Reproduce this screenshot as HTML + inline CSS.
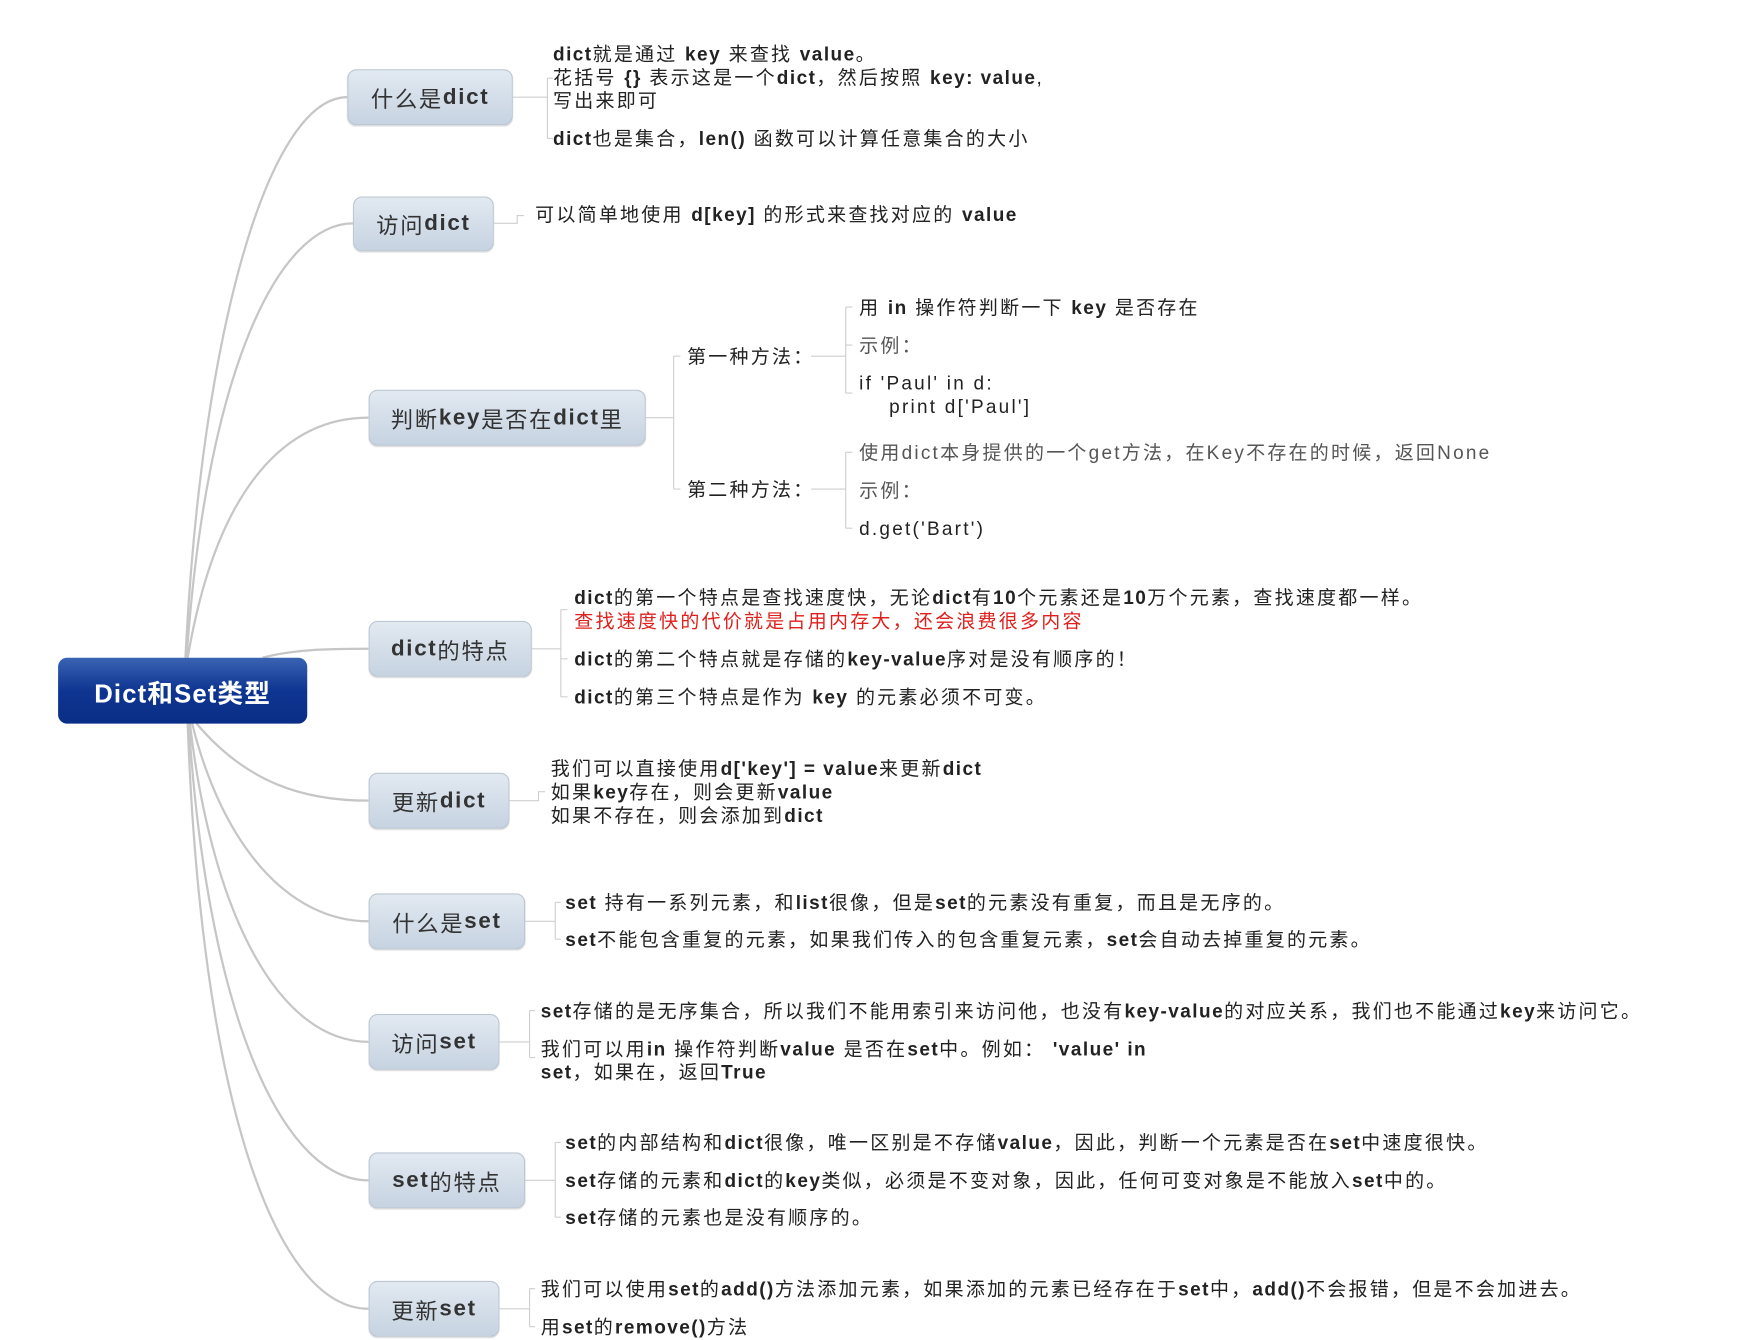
<!DOCTYPE html>
<html><head><meta charset="utf-8"><style>
html,body{margin:0;padding:0;background:#fff;overflow:hidden;width:1754px;height:1340px}
#w{position:absolute;left:0;top:0;width:1570px;height:1200px;transform:scale(1.1172,1.1167);transform-origin:0 0}
.t{position:absolute;font-family:"Liberation Sans","Noto Sans CJK SC",sans-serif;font-size:17px;line-height:21px;color:#222;white-space:nowrap;letter-spacing:2px}
.t b{font-weight:bold;letter-spacing:1.3px}
.g{color:#555}
.r{color:#e0201c}
.n{position:absolute;box-sizing:border-box;border:1px solid #bcc7d3;border-radius:8px;background:linear-gradient(#e2e9f1,#c6d3e1);font-family:"Liberation Sans","Noto Sans CJK SC",sans-serif;font-size:20px;letter-spacing:1.5px;color:#333;display:flex;align-items:center;justify-content:center;box-shadow:0 1px 1px #d8d8d8}
.root{position:absolute;left:52px;top:589px;width:223px;height:59px;border-radius:8px;background:linear-gradient(#3a63b3,#0e3591 50%,#0a2e86);color:#fff;font-family:"Liberation Sans","Noto Sans CJK SC",sans-serif;font-size:23px;letter-spacing:1px;font-weight:bold;display:flex;align-items:center;justify-content:center}
</style></head><body><div id="w">
<svg width="1570" height="1200" style="position:absolute;left:0;top:0" fill="none">
<g stroke="#c6c6c6" stroke-width="2">
<path d="M166,589 C180,300 240,87 311,87"/>
<path d="M167,589 C185,330 250,200 316,200"/>
<path d="M168,589 C195,430 260,374 330,374"/>
<path d="M235,589 C260,582 290,581 330,581"/>
<path d="M176,648 C220,700 270,717 330,717"/>
<path d="M172,648 C200,760 260,825 330,825"/>
<path d="M170,648 C190,820 250,933 330,933"/>
<path d="M169,648 C185,900 250,1057 330,1057"/>
<path d="M168,648 C180,980 245,1172 330,1172"/>
</g>
<g stroke="#cfcfcf" stroke-width="1">
<path d="M459,87H490M490,70V124M490,70h5M490,124h5"/>
<path d="M442,200H463V193h6"/>
<path d="M578,374H603M603,319V438M603,319h6M603,438h6"/>
<path d="M726,319H757M757,275V352M757,275h6M757,309h6M757,352h6"/>
<path d="M726,438H757M757,405V473M757,405h6M757,473h6"/>
<path d="M476,581H502M502,546V624M502,546h6M502,590h6M502,624h6"/>
<path d="M456,717H482V709h6"/>
<path d="M470,825H497M497,808V841M497,808h5M497,841h5"/>
<path d="M447,933H474M474,905V947M474,905h5M474,947h5"/>
<path d="M470,1057H497M497,1023V1090M497,1023h5M497,1090h5"/>
<path d="M447,1172H474M474,1154V1188M474,1154h5M474,1188h5"/>
</g></svg>
<div class="root">Dict和Set类型</div>
<div class="n" style="left:311px;top:62px;width:148px;height:50px">什么是<b>dict</b></div>
<div class="n" style="left:316px;top:176px;width:126px;height:49px">访问<b>dict</b></div>
<div class="n" style="left:330px;top:349px;width:248px;height:50px">判断<b>key</b>是否在<b>dict</b>里</div>
<div class="n" style="left:330px;top:556px;width:146px;height:50px"><b>dict</b>的特点</div>
<div class="n" style="left:330px;top:692px;width:126px;height:50px">更新<b>dict</b></div>
<div class="n" style="left:330px;top:800px;width:140px;height:50px">什么是<b>set</b></div>
<div class="n" style="left:330px;top:908px;width:117px;height:50px">访问<b>set</b></div>
<div class="n" style="left:330px;top:1032px;width:140px;height:50px"><b>set</b>的特点</div>
<div class="n" style="left:330px;top:1147px;width:117px;height:50px">更新<b>set</b></div>

<div class="t" style="left:495px;top:38px"><b>dict</b>就是通过 <b>key</b> 来查找 <b>value</b>。<br>花括号 <b>{}</b> 表示这是一个<b>dict</b>，然后按照 <b>key: value</b>,<br>写出来即可</div>
<div class="t" style="left:495px;top:114px"><b>dict</b>也是集合，<b>len()</b> 函数可以计算任意集合的大小</div>
<div class="t" style="left:479px;top:182px">可以简单地使用 <b>d[key]</b> 的形式来查找对应的 <b>value</b></div>
<div class="t" style="left:615px;top:309px">第一种方法：</div>
<div class="t" style="left:615px;top:428px">第二种方法：</div>
<div class="t" style="left:769px;top:265px">用 <b>in</b> 操作符判断一下 <b>key</b> 是否存在</div>
<div class="t g" style="left:769px;top:299px">示例：</div>
<div class="t" style="left:769px;top:333px">if 'Paul' in d:<br>&nbsp;&nbsp;&nbsp;&nbsp;print d['Paul']</div>
<div class="t g" style="left:769px;top:395px">使用dict本身提供的一个get方法，在Key不存在的时候，返回None</div>
<div class="t g" style="left:769px;top:429px">示例：</div>
<div class="t" style="left:769px;top:463px">d.get('Bart')</div>
<div class="t" style="left:514px;top:525px"><b>dict</b>的第一个特点是查找速度快，无论<b>dict</b>有<b>10</b>个元素还是<b>10</b>万个元素，查找速度都一样。<br><span class="r">查找速度快的代价就是占用内存大，还会浪费很多内容</span></div>
<div class="t" style="left:514px;top:580px"><b>dict</b>的第二个特点就是存储的<b>key-value</b>序对是没有顺序的！</div>
<div class="t" style="left:514px;top:614px"><b>dict</b>的第三个特点是作为 <b>key</b> 的元素必须不可变。</div>
<div class="t" style="left:493px;top:678px">我们可以直接使用<b>d['key'] = value</b>来更新<b>dict</b><br>如果<b>key</b>存在，则会更新<b>value</b><br>如果不存在，则会添加到<b>dict</b></div>
<div class="t" style="left:506px;top:798px"><b>set</b> 持有一系列元素，和<b>list</b>很像，但是<b>set</b>的元素没有重复，而且是无序的。</div>
<div class="t" style="left:506px;top:831px"><b>set</b>不能包含重复的元素，如果我们传入的包含重复元素，<b>set</b>会自动去掉重复的元素。</div>
<div class="t" style="left:484px;top:895px"><b>set</b>存储的是无序集合，所以我们不能用索引来访问他，也没有<b>key-value</b>的对应关系，我们也不能通过<b>key</b>来访问它。</div>
<div class="t" style="left:484px;top:929px">我们可以用<b>in</b> 操作符判断<b>value</b> 是否在<b>set</b>中。例如： <b>'value' in</b><br><b>set</b>，如果在，返回<b>True</b></div>
<div class="t" style="left:506px;top:1013px"><b>set</b>的内部结构和<b>dict</b>很像，唯一区别是不存储<b>value</b>，因此，判断一个元素是否在<b>set</b>中速度很快。</div>
<div class="t" style="left:506px;top:1047px"><b>set</b>存储的元素和<b>dict</b>的<b>key</b>类似，必须是不变对象，因此，任何可变对象是不能放入<b>set</b>中的。</div>
<div class="t" style="left:506px;top:1080px"><b>set</b>存储的元素也是没有顺序的。</div>
<div class="t" style="left:484px;top:1144px">我们可以使用<b>set</b>的<b>add()</b>方法添加元素，如果添加的元素已经存在于<b>set</b>中，<b>add()</b>不会报错，但是不会加进去。</div>
<div class="t" style="left:484px;top:1178px">用<b>set</b>的<b>remove()</b>方法</div>
</div></body></html>
